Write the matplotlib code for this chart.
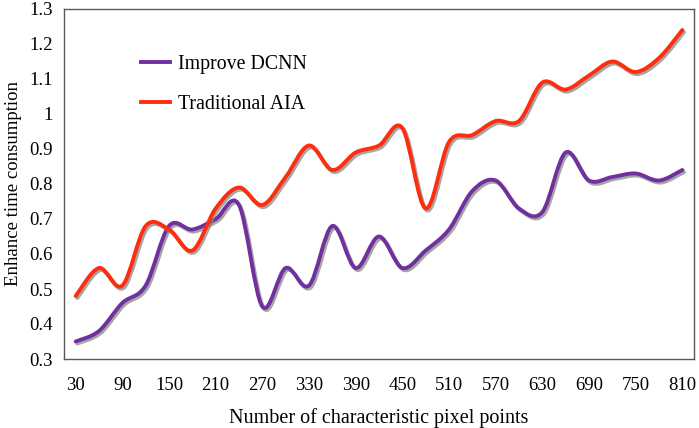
import numpy as np
import matplotlib
matplotlib.use("Agg")
import matplotlib.pyplot as plt
import matplotlib.patheffects as pe
from matplotlib.path import Path
from matplotlib.patches import PathPatch
from matplotlib.lines import Line2D
from matplotlib.ticker import FuncFormatter

# data
pixels = [30, 60, 90, 120, 150, 180, 210, 240, 270, 300, 330, 360, 390, 420,
          450, 480, 510, 540, 570, 600, 630, 660, 690, 720, 750, 780, 810]
improve_dcnn = [0.35, 0.38, 0.46, 0.51, 0.68, 0.67, 0.70, 0.74, 0.45, 0.56,
                0.51, 0.68, 0.56, 0.65, 0.56, 0.61, 0.67, 0.78, 0.81, 0.73,
                0.72, 0.89, 0.81, 0.82, 0.83, 0.81, 0.84]
traditional_aia = [0.48, 0.56, 0.51, 0.68, 0.67, 0.61, 0.73, 0.79, 0.74, 0.82,
                   0.91, 0.84, 0.89, 0.91, 0.96, 0.73, 0.92, 0.94, 0.98, 0.98,
                   1.09, 1.07, 1.11, 1.15, 1.12, 1.16, 1.24]
x_ticks = [30, 90, 150, 210, 270, 330, 390, 450, 510, 570, 630, 690, 750, 810]
y_ticks = [0.3, 0.4, 0.5, 0.6, 0.7, 0.8, 0.9, 1.0, 1.1, 1.2, 1.3]

plt.rcParams['font.family'] = ['Liberation Serif', 'DejaVu Serif']

purple = "#7030A0"
red = "#FF2D0D"


def smooth_path(x, y):
    # excel-like smoothed line: cubic bezier segments through the points
    pts = np.column_stack([x, y]).astype(float)
    verts = [pts[0]]
    codes = [Path.MOVETO]
    n = len(pts)
    for i in range(n - 1):
        p0 = pts[max(i - 1, 0)]
        p1 = pts[i]
        p2 = pts[i + 1]
        p3 = pts[min(i + 2, n - 1)]
        c1 = p1 + (p2 - p0) / 6.0
        c2 = p2 - (p3 - p1) / 6.0
        verts += [c1, c2, p2]
        codes += [Path.CURVE4] * 3
    return Path(verts, codes)


shadow = [pe.SimpleLineShadow(offset=(1.2, -1.5), shadow_color="#808080", alpha=0.7),
          pe.Normal()]

fig = plt.figure(figsize=(6.99, 4.28), dpi=100)
ax = fig.add_axes([64 / 699, 1 - 359 / 428, 630 / 699, 350 / 428])

for ys, col in [(improve_dcnn, purple), (traditional_aia, red)]:
    patch = PathPatch(smooth_path(pixels, ys), facecolor="none", edgecolor=col,
                      linewidth=2.8, capstyle="round", joinstyle="round")
    patch.set_path_effects(shadow)
    ax.add_patch(patch)

ax.set_xlim(15, 825)
ax.set_ylim(0.3, 1.3)
ax.set_xticks(x_ticks)
ax.set_yticks(y_ticks)
ax.yaxis.set_major_formatter(FuncFormatter(lambda v, p: "%g" % round(v, 2)))
ax.tick_params(length=0, labelsize=13.5)
ax.tick_params(axis="y", pad=8)
ax.tick_params(axis="x", pad=13)
for s in ax.spines.values():
    s.set_color("#595959")
    s.set_linewidth(1.0)

ax.set_xlabel("Number of characteristic pixel points", fontsize=14.5, labelpad=10)
ax.set_ylabel("Enhance time consumption", fontsize=13.5)
ax.yaxis.set_label_coords(-0.066, 0.5)

handles = [Line2D([], [], color=purple, linewidth=2.8),
           Line2D([], [], color=red, linewidth=2.8)]
ax.legend(handles, ["Improve DCNN", "Traditional AIA"], frameon=False,
          fontsize=14.3, loc="upper left", bbox_to_anchor=(123 / 699, 1 - 37 / 428),
          bbox_transform=fig.transFigure, handlelength=1.45, handletextpad=0.4,
          labelspacing=1.05)

fig.savefig("out.png", dpi=100)
